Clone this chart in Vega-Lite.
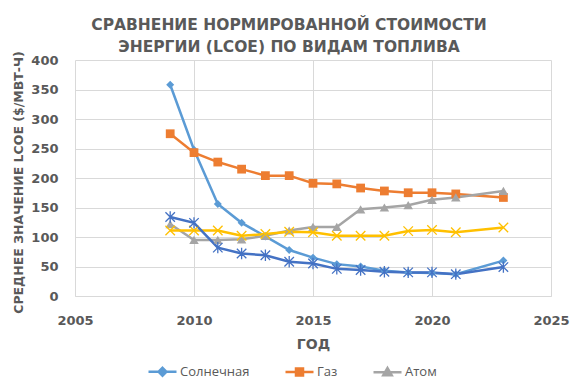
{
  "$schema": "https://vega.github.io/schema/vega-lite/v6.json",
  "width": 476,
  "height": 236,
  "autosize": {"type": "none"},
  "padding": {"left": 75, "top": 60, "right": 27, "bottom": 91},
  "background": "white",
  "config": {
    "view": {"stroke": null},
    "font": "DejaVu Sans"
  },
  "title": {
    "text": ["СРАВНЕНИЕ НОРМИРОВАННОЙ СТОИМОСТИ", "ЭНЕРГИИ (LCOE) ПО ВИДАМ ТОПЛИВА"],
    "anchor": "middle",
    "font": "DejaVu Sans",
    "fontSize": 15.5,
    "fontWeight": "bold",
    "color": "#595959",
    "lineHeight": 22,
    "offset": 0,
    "dy": 5,
    "dx": -24
  },
  "data": {
    "values": [
      {"year": 2009, "series": "Солнечная", "lcoe": 358},
      {"year": 2010, "series": "Солнечная", "lcoe": 248},
      {"year": 2011, "series": "Солнечная", "lcoe": 156},
      {"year": 2012, "series": "Солнечная", "lcoe": 124},
      {"year": 2013, "series": "Солнечная", "lcoe": 101},
      {"year": 2014, "series": "Солнечная", "lcoe": 78},
      {"year": 2015, "series": "Солнечная", "lcoe": 65},
      {"year": 2016, "series": "Солнечная", "lcoe": 54},
      {"year": 2017, "series": "Солнечная", "lcoe": 50},
      {"year": 2018, "series": "Солнечная", "lcoe": 43},
      {"year": 2019, "series": "Солнечная", "lcoe": 40},
      {"year": 2020, "series": "Солнечная", "lcoe": 39},
      {"year": 2021, "series": "Солнечная", "lcoe": 37},
      {"year": 2023, "series": "Солнечная", "lcoe": 60},
      {"year": 2009, "series": "Газ", "lcoe": 275},
      {"year": 2010, "series": "Газ", "lcoe": 243},
      {"year": 2011, "series": "Газ", "lcoe": 227},
      {"year": 2012, "series": "Газ", "lcoe": 215},
      {"year": 2013, "series": "Газ", "lcoe": 204},
      {"year": 2014, "series": "Газ", "lcoe": 204},
      {"year": 2015, "series": "Газ", "lcoe": 191},
      {"year": 2016, "series": "Газ", "lcoe": 190},
      {"year": 2017, "series": "Газ", "lcoe": 183},
      {"year": 2018, "series": "Газ", "lcoe": 178},
      {"year": 2019, "series": "Газ", "lcoe": 175},
      {"year": 2020, "series": "Газ", "lcoe": 175},
      {"year": 2021, "series": "Газ", "lcoe": 173},
      {"year": 2023, "series": "Газ", "lcoe": 167},
      {"year": 2009, "series": "Атом", "lcoe": 122},
      {"year": 2010, "series": "Атом", "lcoe": 95},
      {"year": 2011, "series": "Атом", "lcoe": 95},
      {"year": 2012, "series": "Атом", "lcoe": 96},
      {"year": 2013, "series": "Атом", "lcoe": 102},
      {"year": 2014, "series": "Атом", "lcoe": 111},
      {"year": 2015, "series": "Атом", "lcoe": 117},
      {"year": 2016, "series": "Атом", "lcoe": 117},
      {"year": 2017, "series": "Атом", "lcoe": 147},
      {"year": 2018, "series": "Атом", "lcoe": 150},
      {"year": 2019, "series": "Атом", "lcoe": 154},
      {"year": 2020, "series": "Атом", "lcoe": 163},
      {"year": 2021, "series": "Атом", "lcoe": 167},
      {"year": 2023, "series": "Атом", "lcoe": 178},
      {"year": 2009, "series": "Уголь", "lcoe": 111},
      {"year": 2010, "series": "Уголь", "lcoe": 111},
      {"year": 2011, "series": "Уголь", "lcoe": 111},
      {"year": 2012, "series": "Уголь", "lcoe": 102},
      {"year": 2013, "series": "Уголь", "lcoe": 105},
      {"year": 2014, "series": "Уголь", "lcoe": 109},
      {"year": 2015, "series": "Уголь", "lcoe": 108},
      {"year": 2016, "series": "Уголь", "lcoe": 102},
      {"year": 2017, "series": "Уголь", "lcoe": 102},
      {"year": 2018, "series": "Уголь", "lcoe": 102},
      {"year": 2019, "series": "Уголь", "lcoe": 110},
      {"year": 2020, "series": "Уголь", "lcoe": 112},
      {"year": 2021, "series": "Уголь", "lcoe": 108},
      {"year": 2023, "series": "Уголь", "lcoe": 116},
      {"year": 2009, "series": "Ветер", "lcoe": 134},
      {"year": 2010, "series": "Ветер", "lcoe": 124},
      {"year": 2011, "series": "Ветер", "lcoe": 82},
      {"year": 2012, "series": "Ветер", "lcoe": 72},
      {"year": 2013, "series": "Ветер", "lcoe": 69},
      {"year": 2014, "series": "Ветер", "lcoe": 58},
      {"year": 2015, "series": "Ветер", "lcoe": 55},
      {"year": 2016, "series": "Ветер", "lcoe": 46},
      {"year": 2017, "series": "Ветер", "lcoe": 44},
      {"year": 2018, "series": "Ветер", "lcoe": 41},
      {"year": 2019, "series": "Ветер", "lcoe": 40},
      {"year": 2020, "series": "Ветер", "lcoe": 40},
      {"year": 2021, "series": "Ветер", "lcoe": 37},
      {"year": 2023, "series": "Ветер", "lcoe": 49}
    ]
  },
  "encoding": {
    "x": {
      "field": "year",
      "type": "quantitative",
      "scale": {"domain": [2005, 2025], "nice": false, "zero": false},
      "axis": {
        "values": [2005, 2010, 2015, 2020, 2025],
        "format": "d",
        "grid": true,
        "gridColor": "#D9D9D9",
        "gridWidth": 1,
        "domainColor": "#D9D9D9",
        "ticks": false,
        "labelPadding": 18,
        "labelFont": "DejaVu Sans",
        "labelFontSize": 13,
        "labelFontWeight": "bold",
        "labelColor": "#595959",
        "labelFlush": false,
        "title": "ГОД",
        "titleFont": "DejaVu Sans",
        "titleFontSize": 14,
        "titleFontWeight": "bold",
        "titleColor": "#595959",
        "titleBaseline": "middle",
        "titleY": 48
      }
    },
    "y": {
      "field": "lcoe",
      "type": "quantitative",
      "scale": {"domain": [0, 400], "nice": false},
      "axis": {
        "values": [0, 50, 100, 150, 200, 250, 300, 350, 400],
        "grid": true,
        "gridColor": "#D9D9D9",
        "gridWidth": 1,
        "domain": false,
        "ticks": false,
        "labelPadding": 17,
        "labelFont": "DejaVu Sans",
        "labelFontSize": 13,
        "labelFontWeight": "bold",
        "labelColor": "#595959",
        "title": "СРЕДНЕЕ ЗНАЧЕНИЕ LCOE ($/МВТ-Ч)",
        "titleFont": "DejaVu Sans",
        "titleFontSize": 12.5,
        "titleFontWeight": "bold",
        "titleColor": "#595959",
        "titleAngle": -90,
        "titleAlign": "center",
        "titleBaseline": "middle",
        "titleX": -57,
        "titleY": 122
      }
    },
    "color": {
      "field": "series",
      "type": "nominal",
      "scale": {
        "domain": ["Солнечная", "Газ", "Атом", "Уголь", "Ветер"],
        "range": ["#5B9BD5", "#ED7D31", "#A5A5A5", "#FFC000", "#4472C4"]
      },
      "legend": {
        "values": ["Солнечная", "Газ", "Атом"],
        "title": null,
        "orient": "none",
        "direction": "horizontal",
        "legendX": 72,
        "legendY": 296,
        "symbolSize": 784,
        "symbolStrokeWidth": 2.5,
        "labelFont": "Open Sans",
        "labelFontSize": 13,
        "labelColor": "#595959",
        "labelOffset": 2,
        "columnPadding": 30,
        "encode": {
          "symbols": {
            "update": {
              "shape": {"signal": "datum.value === 'Солнечная' ? 'M-1,0L1,0M0,-0.28L0.28,0L0,0.28L-0.28,0Z' : datum.value === 'Газ' ? 'M-1,0L1,0M-0.25,-0.25L0.25,-0.25L0.25,0.25L-0.25,0.25Z' : 'M-1,0L1,0M0,-0.3L0.3,0.22L-0.3,0.22Z'"},
              "fill": {"scale": "color", "field": "value"},
              "stroke": {"scale": "color", "field": "value"},
              "strokeWidth": {"value": 2.5},
              "size": {"value": 784}
            }
          }
        }
      }
    }
  },
  "resolve": {"scale": {"shape": "independent", "size": "independent"}},
  "layer": [
    {
      "mark": {"type": "line", "strokeWidth": 2.5, "interpolate": "linear"}
    },
    {
      "transform": [{"filter": "datum.series === 'Солнечная' || datum.series === 'Газ' || datum.series === 'Атом'"}],
      "mark": {"type": "point", "filled": true, "opacity": 1},
      "encoding": {
        "shape": {
          "field": "series",
          "type": "nominal",
          "scale": {
            "domain": ["Солнечная", "Газ", "Атом"],
            "range": ["diamond", "square", "triangle-up"]
          },
          "legend": null
        },
        "size": {
          "field": "series",
          "type": "nominal",
          "scale": {"domain": ["Солнечная", "Газ", "Атом"], "range": [64, 90, 95]},
          "legend": null
        }
      }
    },
    {
      "transform": [{"filter": "datum.series === 'Уголь' || datum.series === 'Ветер'"}],
      "mark": {"type": "point", "filled": false, "opacity": 1, "strokeWidth": 1.3, "size": 90},
      "encoding": {
        "shape": {
          "field": "series",
          "type": "nominal",
          "scale": {
            "domain": ["Уголь", "Ветер"],
            "range": ["M-1,-1L1,1M-1,1L1,-1", "M-1,-1L1,1M-1,1L1,-1M0,-1.2L0,1.2"]
          },
          "legend": null
        }
      }
    }
  ]
}
